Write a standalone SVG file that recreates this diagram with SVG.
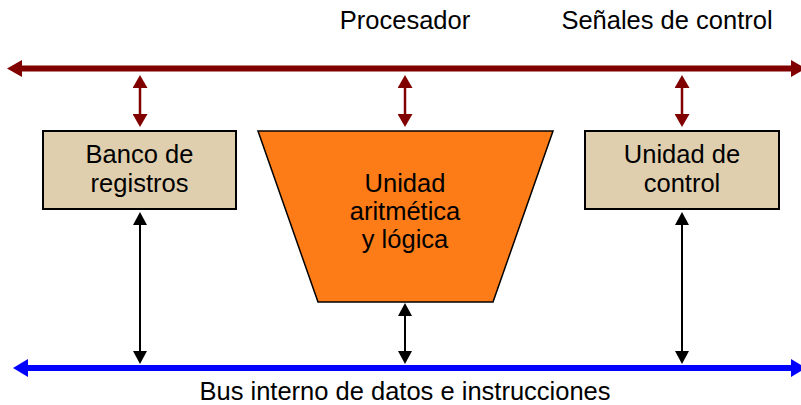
<svg xmlns="http://www.w3.org/2000/svg" width="801" height="405" viewBox="0 0 801 405">
<style>
text{font-family:"Liberation Sans",Arial,Helvetica,sans-serif;font-size:25.5px;fill:#000;text-anchor:middle}
.box{fill:#E0CFAE;stroke:#000;stroke-width:2}
.alu{fill:#FD7C18;stroke:#000;stroke-width:1.5}
.red{stroke:#800000;stroke-width:2.5;fill:none}
.blk{stroke:#000;stroke-width:2;fill:none}
.rbus{stroke:#800000;stroke-width:6;fill:none}
.bbus{stroke:#0000FF;stroke-width:6;fill:none}
</style>
<defs>
<marker id="hr" viewBox="0 0 13 15" refX="8" refY="7.5" markerWidth="13" markerHeight="15" markerUnits="userSpaceOnUse" orient="auto-start-reverse"><path d="M0,0 L13,7.5 L0,15 z" fill="#800000"/></marker>
<marker id="hk" viewBox="0 0 13 14" refX="8" refY="7" markerWidth="13" markerHeight="14" markerUnits="userSpaceOnUse" orient="auto-start-reverse"><path d="M0,0 L13,7 L0,14 z" fill="#000"/></marker>
<marker id="hbr" viewBox="0 0 15 17" refX="9" refY="8.5" markerWidth="15" markerHeight="17" markerUnits="userSpaceOnUse" orient="auto-start-reverse"><path d="M0,0 L15,8.5 L0,17 z" fill="#800000"/></marker>
<marker id="hbb" viewBox="0 0 15 18" refX="9" refY="9" markerWidth="15" markerHeight="18" markerUnits="userSpaceOnUse" orient="auto-start-reverse"><path d="M0,0 L15,9 L0,18 z" fill="#0000FF"/></marker>
</defs>
<g id="connectors">
<line class="rbus" x1="13" y1="68.5" x2="800" y2="68.5" marker-start="url(#hbr)" marker-end="url(#hbr)"/>
<line class="bbus" x1="19" y1="368" x2="800" y2="368" marker-start="url(#hbb)" marker-end="url(#hbb)"/>
<line class="red" x1="140" y1="80" x2="140" y2="122" marker-start="url(#hr)" marker-end="url(#hr)"/>
<line class="red" x1="405" y1="80" x2="405" y2="122" marker-start="url(#hr)" marker-end="url(#hr)"/>
<line class="red" x1="682" y1="80" x2="682" y2="122" marker-start="url(#hr)" marker-end="url(#hr)"/>
<line class="blk" x1="140" y1="217" x2="140" y2="359" marker-start="url(#hk)" marker-end="url(#hk)"/>
<line class="blk" x1="405" y1="308" x2="405" y2="359" marker-start="url(#hk)" marker-end="url(#hk)"/>
<line class="blk" x1="682" y1="217" x2="682" y2="359" marker-start="url(#hk)" marker-end="url(#hk)"/>
</g>
<g id="banco">
<rect class="box" x="43" y="131" width="193" height="78"/>
<text x="139.5" y="163">Banco de</text>
<text x="139.5" y="192">registros</text>
</g>
<g id="alu">
<polygon class="alu" points="258,131 553,131 493,302 318,302"/>
<text x="405" y="192">Unidad</text>
<text x="405" y="220">aritmética</text>
<text x="405" y="248">y lógica</text>
</g>
<g id="control">
<rect class="box" x="585" y="131" width="194" height="78"/>
<text x="682" y="163">Unidad de</text>
<text x="682" y="192">control</text>
</g>
<g id="labels">
<text x="405" y="29">Procesador</text>
<text x="667" y="29">Señales de control</text>
<text x="405" y="400">Bus interno de datos e instrucciones</text>
</g>
</svg>
